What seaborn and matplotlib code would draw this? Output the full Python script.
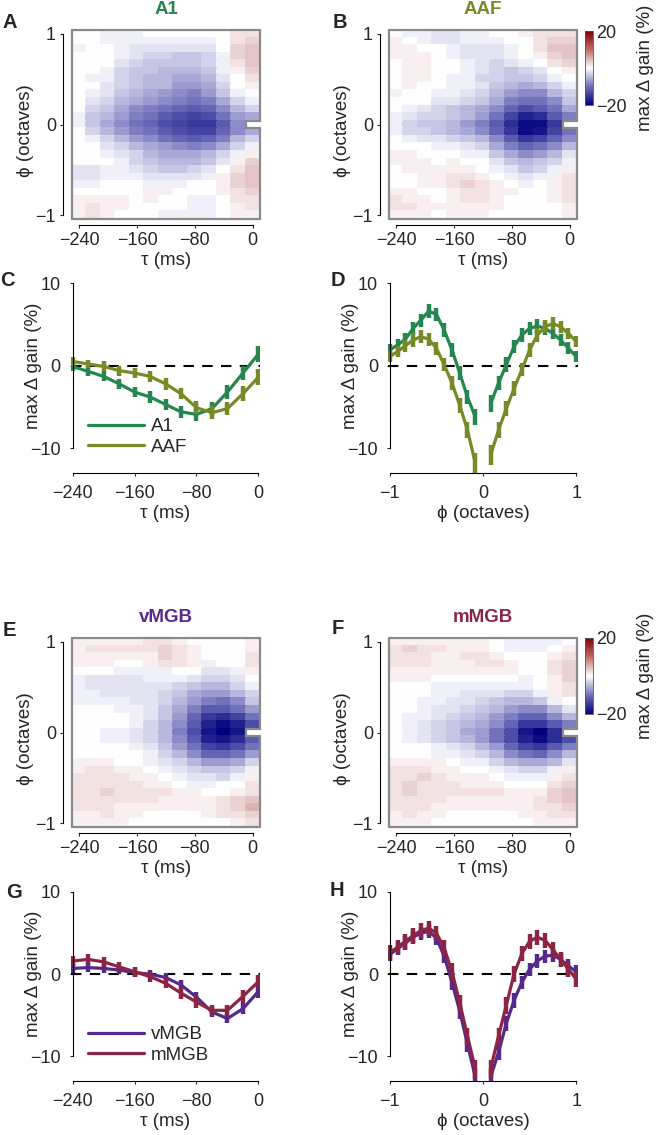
import numpy as np
import pandas as pd
import matplotlib
matplotlib.use("Agg")
import matplotlib.pyplot as plt
from matplotlib.colors import LinearSegmentedColormap
import seaborn as sns

sns.set_style("ticks")
plt.rcParams["font.family"] = ["Liberation Sans", "DejaVu Sans"]
plt.rcParams["axes.unicode_minus"] = True

# axes values
tau_bins = [-240, -220, -200, -180, -160, -140, -120, -100, -80, -60, -40, -20, 0]
phi_bins = [-1.0, -0.917, -0.833, -0.75, -0.667, -0.583, -0.5, -0.417, -0.333, -0.25, -0.167, -0.083, 0.0,
            0.083, 0.167, 0.25, 0.333, 0.417, 0.5, 0.583, 0.667, 0.75, 0.833, 0.917, 1.0]
tau_ticks = [-240, -160, -80, 0]
phi_ticks = [1, 0, -1]
gain_ticks = [-10, 0, 10]
cbar_ticks = [-20, 20]

# max delta gain maps (%), rows from phi = +1 (top) to phi = -1 (bottom), columns tau -240..0
a1_map = [
    [0, 0, -1, -1, -1, 0, 0, 0, 0, 0, 0, 2, 2],
    [0, 0, -1, -1, -1, -1, -1, -1, -1, -1, 0, 2, 3],
    [1, 0, 0, -1, -2, -2, -2, -2, -2, -2, 0, 3, 4],
    [0, 0, 0, -1, -2, -3, -3, -4, -4, -3, -1, 3, 4],
    [0, 0, 0, -2, -3, -4, -4, -4, -4, -3, -1, 2, 4],
    [0, 0, -1, -3, -4, -4, -5, -5, -5, -4, -1, 1, 3],
    [0, -1, -1, -3, -4, -5, -5, -6, -6, -5, -2, 0, 2],
    [0, 0, -2, -3, -4, -5, -5, -7, -7, -6, -3, 0, 1],
    [0, -1, -2, -4, -5, -6, -7, -8, -9, -7, -4, -1, 0],
    [0, -2, -3, -5, -6, -7, -8, -9, -10, -9, -6, -3, -1],
    [0, -3, -4, -6, -8, -9, -10, -11, -12, -11, -8, -5, -3],
    [-1, -4, -5, -7, -9, -10, -12, -13, -14, -13, -10, -7, -6],
    [-1, -4, -6, -8, -10, -11, -13, -14, -15, -15, -12, -8, None],
    [0, -3, -5, -7, -9, -10, -12, -13, -14, -14, -11, -8, -6],
    [0, -1, -3, -5, -7, -8, -10, -11, -12, -11, -9, -5, -3],
    [0, 0, -2, -3, -5, -6, -7, -8, -9, -8, -6, -3, -1],
    [0, 0, -1, -2, -3, -5, -6, -6, -6, -5, -3, -1, 1],
    [0, 0, 0, -1, -3, -4, -5, -5, -5, -4, -2, 1, 3],
    [-2, -2, -1, -1, -2, -3, -4, -4, -3, -2, 0, 2, 4],
    [-2, -2, -1, -1, -1, -2, -2, -2, -2, -1, 1, 3, 4],
    [-1, -1, 0, 0, 0, -1, -1, -1, 0, 0, 1, 3, 4],
    [0, 0, 0, 0, 0, 1, 1, 0, 0, 0, 1, 2, 3],
    [1, 1, 1, 1, 0, 1, 0, 0, -1, -1, 0, 2, 2],
    [1, 2, 1, 1, 0, 0, 0, 0, -1, -1, 0, 1, 2],
    [1, 2, 1, 0, 0, 0, -1, -1, -1, -1, 0, 1, 1],
]
aaf_map = [
    [0, -1, -1, -2, -2, -1, -1, 0, 0, 1, 2, 2, 2],
    [1, 0, -1, -2, -2, -1, -1, -1, 0, 0, 2, 3, 3],
    [1, 1, 0, 0, -1, -2, -2, -2, -1, 0, 2, 4, 4],
    [1, 1, 1, 0, -1, -2, -2, -2, -1, 0, 1, 3, 4],
    [0, 1, 1, 0, 0, -1, -2, -3, -2, -1, 0, 2, 3],
    [0, 1, 1, 0, 0, -1, -2, -3, -4, -3, -2, 0, 1],
    [0, 1, 1, 0, -1, -1, -3, -3, -4, -4, -3, -1, 0],
    [0, 1, 0, 0, -1, -1, -2, -4, -5, -6, -5, -3, -1],
    [1, 0, 0, -1, -1, -2, -3, -5, -7, -8, -8, -5, -3],
    [0, 0, 0, -2, -2, -3, -4, -6, -9, -10, -10, -8, -4],
    [0, -1, -2, -3, -4, -5, -6, -8, -11, -13, -12, -10, -6],
    [-1, -2, -3, -3, -4, -5, -7, -10, -14, -17, -16, -12, -9],
    [-1, -3, -4, -4, -5, -7, -9, -12, -16, -19, -19, -15, None],
    [-1, -3, -3, -4, -5, -6, -8, -11, -15, -19, -18, -14, -10],
    [0, -1, -2, -2, -3, -4, -5, -8, -12, -15, -14, -11, -8],
    [0, 0, 0, -1, -1, -2, -3, -6, -9, -11, -10, -8, -5],
    [1, 1, 0, 0, 0, -1, -1, -4, -6, -8, -7, -5, -2],
    [1, 1, 1, 0, 1, 0, 0, -2, -4, -5, -4, -3, -1],
    [0, 1, 1, 1, 1, 1, 0, -1, -2, -4, -3, -1, 1],
    [0, 0, 1, 1, 2, 2, 1, 0, -1, -2, -1, 1, 2],
    [0, 0, 1, 1, 2, 3, 2, 1, 0, -1, 0, 1, 2],
    [1, 1, 0, 0, 1, 2, 2, 1, 1, 0, 0, 1, 2],
    [2, 1, 1, 0, 1, 2, 2, 1, 0, 0, 0, 1, 2],
    [2, 2, 1, 1, 1, 1, 1, 1, 0, 0, 0, 0, 1],
    [1, 1, 1, 0, 1, 1, 1, 0, 0, 0, 0, 0, 1],
]
vmgb_map = [
    [1, 1, 1, 1, 1, 2, 2, 1, 0, 0, 0, 0, 1],
    [1, 2, 2, 2, 2, 2, 3, 2, 1, 0, 0, 0, 1],
    [1, 1, 1, 1, 1, 1, 3, 2, 1, 0, 0, 0, 2],
    [1, 1, 1, 0, 0, 1, 2, 2, 1, -1, 0, 0, 2],
    [0, 0, 0, -1, -1, -1, -1, 0, 0, -2, -2, -1, 1],
    [-1, -2, -2, -2, -2, -1, -1, -1, -2, -3, -3, -2, 0],
    [-1, -2, -2, -2, -2, -2, -2, -3, -4, -5, -5, -3, -1],
    [-1, -1, -2, -2, -2, -2, -3, -4, -6, -7, -7, -5, -3],
    [-1, -1, -1, -1, -2, -2, -3, -5, -7, -9, -10, -8, -4],
    [0, 0, 0, -1, -1, -2, -4, -6, -9, -12, -12, -10, -7],
    [0, 0, 0, 0, -1, -2, -4, -7, -11, -15, -16, -14, -10],
    [0, 0, 0, 0, -1, -3, -5, -8, -12, -17, -19, -17, -13],
    [0, 0, -1, -1, -2, -3, -5, -9, -13, -18, -20, -18, None],
    [0, 0, -1, -1, -2, -3, -5, -8, -12, -17, -18, -16, -12],
    [0, 0, 0, 0, -1, -2, -4, -7, -10, -14, -15, -13, -10],
    [0, 0, 0, 0, 0, -1, -3, -5, -8, -11, -11, -10, -7],
    [1, 1, 1, 0, 0, -1, -2, -3, -5, -7, -7, -6, -3],
    [1, 2, 2, 1, 1, 0, -1, -2, -3, -4, -4, -3, -1],
    [2, 2, 2, 2, 1, 1, 0, -1, -2, -2, -3, -1, 1],
    [2, 2, 2, 2, 2, 1, 1, 0, -1, -1, 0, 0, 2],
    [2, 2, 3, 2, 2, 2, 2, 1, 1, 0, 0, 1, 2],
    [2, 2, 2, 2, 2, 2, 1, 1, 1, 1, 2, 3, 4],
    [2, 2, 2, 1, 1, 1, 1, 1, 1, 1, 2, 3, 5],
    [1, 1, 2, 1, 1, 0, 0, 0, 0, 1, 2, 2, 3],
    [1, 1, 1, 1, 0, 0, 0, 0, 0, 0, 0, 1, 2],
]
mmgb_map = [
    [1, 1, 1, 1, 1, 1, 1, 0, -1, -1, -1, -1, 0],
    [2, 3, 2, 2, 1, 1, 1, 0, -1, -1, -1, 0, 1],
    [2, 2, 2, 1, 1, 2, 2, 1, 0, 0, 0, 1, 2],
    [2, 2, 2, 1, 1, 1, 2, 2, 1, 0, 0, 2, 3],
    [1, 1, 1, 1, 1, 1, 1, 1, 1, 0, 0, 2, 3],
    [1, 1, 1, 0, 0, 0, 0, 0, 0, -1, 0, 1, 3],
    [0, 0, 0, -1, -1, -1, -1, -1, -1, -1, 0, 1, 2],
    [0, 0, 0, -1, -1, -2, -2, -2, -3, -3, -1, 1, 2],
    [0, 0, -1, -1, -2, -2, -3, -4, -5, -5, -4, -1, 0],
    [0, 0, -1, -2, -2, -3, -4, -5, -7, -8, -8, -5, -2],
    [0, -1, -1, -2, -3, -4, -5, -7, -9, -11, -11, -8, -5],
    [0, -1, -2, -3, -4, -5, -6, -8, -11, -15, -15, -12, -9],
    [0, -1, -2, -3, -4, -6, -7, -10, -13, -18, -20, -16, None],
    [0, -1, -2, -3, -4, -5, -7, -10, -13, -17, -19, -16, -13],
    [0, 0, 0, -1, -2, -3, -5, -7, -11, -14, -15, -12, -9],
    [0, 0, 0, -1, -1, -2, -3, -5, -8, -10, -11, -8, -5],
    [1, 1, 1, 1, 0, -1, -1, -3, -5, -6, -6, -5, -2],
    [2, 2, 2, 1, 1, 0, 0, -1, -2, -3, -3, -1, 1],
    [2, 2, 3, 2, 1, 1, 1, 0, -1, -1, -1, 1, 2],
    [2, 3, 2, 2, 2, 1, 1, 1, 0, 0, 0, 2, 3],
    [2, 3, 2, 2, 2, 2, 2, 2, 1, 1, 1, 3, 4],
    [2, 2, 2, 2, 1, 1, 1, 1, 1, 1, 2, 3, 4],
    [2, 2, 2, 1, 1, 1, 1, 1, 1, 1, 2, 2, 3],
    [1, 2, 1, 1, 0, 0, 0, 0, 0, 1, 1, 2, 2],
    [1, 1, 1, 0, 0, 0, 0, 0, 0, 0, 1, 1, 1],
]

# temporal profiles (%) vs tau
a1_tau = [-0.1, -0.7, -1.3, -2.2, -3.2, -3.8, -4.7, -5.6, -5.9, -5.2, -3.2, -0.9, 1.4]
a1_tau_err = [0.5, 0.6, 0.6, 0.6, 0.6, 0.7, 0.7, 0.7, 0.8, 0.8, 0.8, 0.9, 1.0]
aaf_tau = [0.5, 0.2, -0.1, -0.6, -0.9, -1.3, -2.2, -3.4, -5.1, -5.7, -5.2, -3.4, -1.4]
aaf_tau_err = [0.5, 0.5, 0.6, 0.6, 0.6, 0.7, 0.7, 0.7, 0.8, 0.8, 0.8, 0.9, 1.0]
vmgb_tau = [0.7, 0.8, 0.7, 0.5, 0.2, 0.0, -0.4, -1.3, -2.8, -4.6, -5.4, -4.2, -2.1]
vmgb_tau_err = [0.5, 0.5, 0.5, 0.5, 0.5, 0.5, 0.5, 0.6, 0.6, 0.6, 0.6, 0.7, 0.8]
mmgb_tau = [1.6, 1.8, 1.5, 0.9, 0.3, -0.3, -1.1, -2.3, -3.4, -4.4, -4.4, -2.7, -0.9]
mmgb_tau_err = [0.6, 0.6, 0.6, 0.6, 0.6, 0.6, 0.6, 0.7, 0.7, 0.7, 0.7, 0.8, 0.8]

# spectral profiles (%) vs phi (centre bin not shown)
a1_phi = [1.9, 2.5, 3.2, 4.5, 5.5, 6.6, 6.2, 4.3, 1.9, -0.9, -3.8, -6.2, None,
          -4.6, -2.1, 0.1, 2.3, 3.7, 4.5, 4.8, 4.5, 3.9, 3.1, 2.1, 1.1]
a1_phi_err = [0.7, 0.7, 0.7, 0.8, 0.8, 0.8, 0.8, 0.8, 0.8, 0.9, 0.9, 1.0, None,
              1.0, 0.9, 0.9, 0.8, 0.8, 0.8, 0.8, 0.8, 0.7, 0.7, 0.7, 0.7]
aaf_phi = [1.1, 1.7, 2.4, 3.1, 3.5, 3.2, 2.1, 0.1, -2.1, -4.8, -7.8, -11.8, None,
           -10.8, -7.8, -5.2, -2.8, -0.5, 1.9, 3.7, 4.7, 5.1, 4.7, 3.9, 2.9]
aaf_phi_err = [0.7, 0.7, 0.7, 0.8, 0.8, 0.8, 0.8, 0.8, 0.9, 0.9, 1.0, 1.2, None,
               1.2, 1.0, 0.9, 0.9, 0.8, 0.8, 0.8, 0.8, 0.8, 0.7, 0.7, 0.7]
vmgb_phi = [2.4, 3.1, 3.8, 4.5, 5.0, 5.2, 4.4, 2.2, -1.0, -4.5, -8.5, -12.5, None,
            -12.5, -9.5, -6.0, -3.2, -1.0, 0.6, 1.6, 2.2, 2.3, 1.8, 1.0, 0.3]
vmgb_phi_err = [0.8, 0.8, 0.8, 0.8, 0.8, 0.8, 0.8, 0.8, 0.9, 0.9, 1.0, 1.1, None,
                1.1, 1.0, 0.9, 0.9, 0.8, 0.8, 0.8, 0.8, 0.8, 0.8, 0.8, 0.8]
mmgb_phi = [2.6, 3.3, 4.0, 4.7, 5.3, 5.6, 5.0, 3.2, 0.3, -3.5, -7.5, -11.5, None,
            -11.5, -7.5, -3.8, 0.0, 2.5, 4.0, 4.5, 4.1, 3.0, 1.8, 0.6, -0.6]
mmgb_phi_err = [0.9, 0.9, 0.9, 0.9, 0.9, 0.9, 0.9, 0.9, 1.0, 1.0, 1.0, 1.1, None,
                1.1, 1.0, 1.0, 1.0, 0.9, 0.9, 0.9, 0.9, 0.9, 0.9, 0.9, 0.9]

colors = {"A1": "#25874f", "AAF": "#778a28", "vMGB": "#56298e", "mMGB": "#8c2543"}
cmap = LinearSegmentedColormap.from_list(
    "gain", [(0.0, "#00007c"), (0.25, "#7070bc"), (0.5, "#ffffff"), (0.75, "#bc6c6c"), (1.0, "#820000")])

W, H = 659, 1135
TICK_FS = 13
LABEL_FS = 13.5


def box(l, t, r, b):
    return [l / W, 1 - b / H, (r - l) / W, (b - t) / H]


def draw_map(ax, grid):
    m = np.array(grid, dtype=float)
    sns.heatmap(m, ax=ax, cmap=cmap, vmin=-20, vmax=20, cbar=False,
                xticklabels=False, yticklabels=False, linewidths=0.3, linecolor="face")
    nr, nc = m.shape
    # outline with the notch left by the empty bin
    r, c = np.argwhere(np.isnan(m))[0]
    ax.plot([0, nc, nc, c, c, nc, nc, 0, 0], [0, 0, r, r, r + 1, r + 1, nr, nr, 0],
            color="#8a8a8a", lw=1.6, clip_on=False, solid_joinstyle="miter")
    phi_rows = phi_bins[::-1]
    xt = [tau_bins.index(t) + 0.5 for t in tau_ticks]
    yt = [phi_rows.index(p) + 0.5 for p in phi_ticks]
    ax.set_xticks(xt)
    ax.set_xticklabels([f"{t}".replace("-", "\u2212") for t in tau_ticks])
    ax.set_yticks(yt)
    ax.set_yticklabels([f"{p}".replace("-", "\u2212") for p in phi_ticks], rotation=0)
    for side, off, lo, hi in [("left", 6.5, yt[0], yt[-1]), ("bottom", 4.5, xt[0], xt[-1])]:
        sp = ax.spines[side]
        sp.set_visible(True)
        sp.set_position(("outward", off))
        sp.set_bounds(lo, hi)
        sp.set_color("black")
        sp.set_linewidth(0.8)
    ax.tick_params(length=2.5, width=0.8, pad=2.5, labelsize=TICK_FS)
    ax.set_xlabel("\u03c4 (ms)", fontsize=LABEL_FS, labelpad=2)
    ax.set_ylabel("\u03d5 (octaves)", fontsize=LABEL_FS)
    ax.yaxis.set_label_coords(-0.2, 0.47)
    return ax.collections[0]


def draw_profiles(ax, x, series, xticks, xlabel, xlim, legend):
    ax.axhline(0, color="black", lw=1.5, ls=(0, (5, 4)), zorder=1)
    for y, err, name in series:
        df = pd.DataFrame({"x": x, "y": np.array(y, dtype=float), "err": np.array(err, dtype=float)})
        df["run"] = df["y"].isna().cumsum()
        df = df.dropna()
        sns.lineplot(data=df, x="x", y="y", units="run", estimator=None, ax=ax,
                     color=colors[name], lw=2.3, label=name if legend else None, legend=False)
        ax.errorbar(df["x"], df["y"], yerr=df["err"], fmt="none", ecolor=colors[name],
                    elinewidth=3.2, capsize=0)
    ax.set_xlim(*xlim)
    ax.set_ylim(-13, 10)
    ax.set_xticks(xticks)
    ax.set_yticks(gain_ticks)
    sns.despine(ax=ax)
    ax.spines["left"].set_bounds(gain_ticks[0], gain_ticks[-1])
    ax.spines["left"].set_position(("data", xticks[0]))
    ax.spines["bottom"].set_bounds(xticks[0], xticks[-1])
    for sp in ("left", "bottom"):
        ax.spines[sp].set_linewidth(0.8)
        ax.spines[sp].set_color("black")
    ax.tick_params(length=2.5, width=0.8, pad=6, labelsize=TICK_FS)
    ax.set_xlabel(xlabel, fontsize=LABEL_FS, labelpad=2)
    ax.set_ylabel("max \u0394 gain (%)", fontsize=LABEL_FS)
    ax.yaxis.set_label_coords(-0.155, 0.566)
    if legend:
        ax.legend(loc="lower left", bbox_to_anchor=(0.05, 0.05), frameon=False,
                  handlelength=3.0, handletextpad=0.35, labelspacing=0.2,
                  fontsize=LABEL_FS, borderaxespad=0)


fig = plt.figure(figsize=(W / 100, H / 100), dpi=100)

maps = [(a1_map, "A1", (72, 30, 260, 219)), (aaf_map, "AAF", (389, 30, 577, 219)),
        (vmgb_map, "vMGB", (72, 638, 260, 827)), (mmgb_map, "mMGB", (389, 638, 577, 827))]
mappables = {}
for grid, name, pos in maps:
    ax = fig.add_axes(box(*pos))
    mappables[name] = draw_map(ax, grid)
    fig.text((pos[0] + pos[2]) / 2 / W, 1 - (pos[1] - 21) / H, name, color=colors[name],
             fontsize=13.5, fontweight="bold", ha="center", va="center")

for name, pos in [("AAF", (585, 31, 593, 105)), ("mMGB", (585, 638, 593, 714))]:
    cax = fig.add_axes(box(*pos))
    cb = fig.colorbar(mappables[name], cax=cax, ticks=cbar_ticks)
    cb.outline.set_linewidth(0.6)
    cb.outline.set_edgecolor("#555555")
    cb.ax.tick_params(length=0, pad=2, labelsize=TICK_FS)
    cb.ax.set_yticklabels([f"{t}".replace("-", "\u2212") for t in cbar_ticks])
    fig.text(646 / W, 1 - ((pos[1] + pos[3]) / 2) / H, "max \u0394 gain (%)", rotation=90,
             fontsize=LABEL_FS, ha="center", va="center")

axC = fig.add_axes(box(71, 283, 260, 473))
draw_profiles(axC, tau_bins, [(a1_tau, a1_tau_err, "A1"), (aaf_tau, aaf_tau_err, "AAF")],
              tau_ticks, "\u03c4 (ms)", (-242, 2), True)
axD = fig.add_axes(box(388, 283, 578, 473))
draw_profiles(axD, phi_bins, [(a1_phi, a1_phi_err, "A1"), (aaf_phi, aaf_phi_err, "AAF")],
              [-1, 0, 1], "\u03d5 (octaves)", (-1.02, 1.02), False)
axG = fig.add_axes(box(71, 892, 260, 1081))
draw_profiles(axG, tau_bins, [(vmgb_tau, vmgb_tau_err, "vMGB"), (mmgb_tau, mmgb_tau_err, "mMGB")],
              tau_ticks, "\u03c4 (ms)", (-242, 2), True)
axH = fig.add_axes(box(388, 892, 578, 1081))
draw_profiles(axH, phi_bins, [(vmgb_phi, vmgb_phi_err, "vMGB"), (mmgb_phi, mmgb_phi_err, "mMGB")],
              [-1, 0, 1], "\u03d5 (octaves)", (-1.02, 1.02), False)

for letter, x, y in [("A", 10, 22), ("B", 340, 22), ("C", 7, 281), ("D", 338, 281),
                     ("E", 9, 630), ("F", 338, 628), ("G", 14, 892), ("H", 337, 890)]:
    fig.text(x / W, 1 - y / H, letter, fontsize=14.5, fontweight="bold", ha="center", va="center")

fig.savefig("out.png", dpi=100)
